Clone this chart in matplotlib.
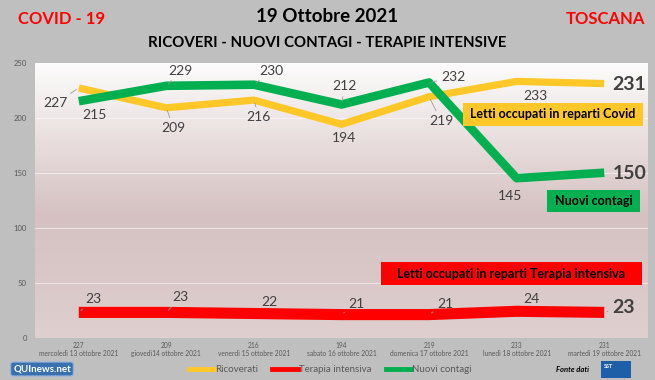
import numpy as np
import matplotlib
matplotlib.use("Agg")
import matplotlib.pyplot as plt
from matplotlib.patches import Rectangle
from matplotlib.lines import Line2D
from matplotlib.colors import LinearSegmentedColormap

plt.rcParams['font.family'] = ['Lato', 'DejaVu Sans']

# ---------------- data ----------------
dates = ["mercoledì 13 ottobre 2021", "giovedì14 ottobre 2021", "venerdì 15 ottobre 2021",
         "sabato 16 ottobre 2021", "domenica 17 ottobre 2021", "lunedì 18 ottobre 2021",
         "martedì 19 ottobre 2021"]
ricoverati = [227, 209, 216, 194, 219, 233, 231]
nuovi_contagi = [215, 229, 230, 212, 232, 145, 150]
terapia_intensiva = [23, 23, 22, 21, 21, 24, 23]

# label offsets in pixels (dx, dy) and leader-line flags – style only
off_ric = [(-23, -15), (7, -20), (5, -17), (2, -14), (12, -24), (19, -15), (25, -1)]
off_nc = [(16, -14), (14, 15), (17, 14), (3, 18), (24, 5), (-7, -18), (25, -1)]
off_ti = [(15, 13), (14, 15), (15, 12), (15, 11), (16, 11), (15, 12), (19, 5)]
lead_ric = [1, 1, 1, 0, 1, 0, 0]
lead_nc = [0, 1, 1, 1, 1, 0, 0]
lead_ti = [1, 1, 0, 1, 1, 0, 1]

YELLOW = "#FFC828"
GREEN = "#00B050"
RED = "#FF0000"
LBL = "#404040"

W, H = 655, 380
fig = plt.figure(figsize=(W / 100, H / 100), dpi=100)
fig.patch.set_facecolor("#BFBFBF")

ax_l, ax_r, ax_t, ax_b = 35, 648, 62.7, 337.7
ax = fig.add_axes([ax_l / W, 1 - ax_b / H, (ax_r - ax_l) / W, (ax_b - ax_t) / H])

# gradient background
cmap = LinearSegmentedColormap.from_list("bg", [(0, "#DFCFCF"), (0.45, "#D5C1C1"), (1, "#FDFCFC")])
gy = np.linspace(0, 1, 256).reshape(-1, 1)
ax.imshow(gy, aspect="auto", cmap=cmap, origin="lower", extent=[-0.5, 6.5, 0, 250], zorder=0)

ax.set_xlim(-0.5, 6.5)
ax.set_ylim(0, 250)
for s in ax.spines.values():
    s.set_visible(False)
ax.set_yticks([0, 50, 100, 150, 200, 250])
ax.tick_params(axis='y', length=0, pad=6, labelsize=5.5, labelcolor="#595959")
ax.yaxis.grid(True, color="white", alpha=0.55, lw=0.8)
ax.set_axisbelow(True)
x = np.arange(len(dates))
ax.set_xticks(x)
ax.set_xticklabels([f"{r}\n{d}" for r, d in zip(ricoverati, dates)], fontsize=4.8,
                   color="#595959", linespacing=1.2)
ax.tick_params(axis='x', length=0, pad=3)

ax.plot(x, ricoverati, color=YELLOW, lw=5.2, solid_capstyle="butt", solid_joinstyle="round", zorder=3)
ax.plot(x, nuovi_contagi, color=GREEN, lw=6.2, solid_capstyle="butt", solid_joinstyle="round", zorder=4)
ax.plot(x, terapia_intensiva, color=RED, lw=8, solid_capstyle="butt", solid_joinstyle="round", zorder=3)

def labels(vals, offs, leads):
    n = len(vals)
    for i, (v, (dx, dy), ld) in enumerate(zip(vals, offs, leads)):
        last = i == n - 1
        ap = None
        if ld:
            ap = dict(arrowstyle="-", color="#9A9A9A", lw=0.6, shrinkA=1, shrinkB=2)
        ax.annotate(str(v), (x[i], v), xytext=(dx, dy), textcoords="offset pixels",
                    ha="center", va="center", color=LBL,
                    fontsize=14 if last else 10, fontweight="bold" if last else "normal",
                    arrowprops=ap, zorder=6)

labels(ricoverati, off_ric, lead_ric)
labels(nuovi_contagi, off_nc, lead_nc)
labels(terapia_intensiva, off_ti, lead_ti)

def px2fig(px, py):
    return px / W, 1 - py / H

def box(x0, y0, x1, y1, color, text, fs=9):
    fx0, fy1 = px2fig(x0, y0)
    fx1, fy0 = px2fig(x1, y1)
    fig.patches.append(Rectangle((fx0, fy0), fx1 - fx0, fy1 - fy0, transform=fig.transFigure,
                                 facecolor=color, edgecolor="none", zorder=10))
    fig.text((fx0 + fx1) / 2, (fy0 + fy1) / 2, text, ha="center", va="center",
             fontsize=fs, fontweight="bold", color="black", zorder=11)

box(463, 103, 643, 126, YELLOW, "Letti occupati in reparti Covid")
box(547, 190, 640, 212, GREEN, "Nuovi contagi")
box(381, 262, 642, 285, RED, "Letti occupati in reparti Terapia intensiva")

# titles
fig.text(62 / W, 1 - 19 / H, "COVID - 19", color="#FF0000", fontsize=12, fontweight="bold",
         ha="center", va="center")
fig.text(605 / W, 1 - 19 / H, "TOSCANA", color="#FF0000", fontsize=12, fontweight="bold",
         ha="center", va="center")
fig.text(327 / W, 1 - 17 / H, "19 Ottobre 2021", color="black", fontsize=13.5,
         fontweight="bold", ha="center", va="center")
fig.text(327 / W, 1 - 43 / H, "RICOVERI - NUOVI CONTAGI - TERAPIE INTENSIVE", color="black",
         fontsize=10.8, fontweight="bold", ha="center", va="center")

# legend
handles = [Line2D([], [], color=YELLOW, lw=3.5), Line2D([], [], color=RED, lw=3.5),
           Line2D([], [], color=GREEN, lw=3.5)]
leg = fig.legend(handles, ["Ricoverati", "Terapia intensiva", "Nuovi contagi"],
                 loc="center", bbox_to_anchor=(330 / W, 1 - 370 / H), ncol=3, frameon=False,
                 fontsize=7, handlelength=2.6, handletextpad=0.1, columnspacing=1.5)
for t in leg.get_texts():
    t.set_color("#595959")

# logos
fig.text(42 / W, 1 - 369 / H, "QUInews.net", ha="center", va="center", fontsize=7,
         fontweight="bold", color="white",
         bbox=dict(boxstyle="round,pad=0.25", fc="#3A6FB0", ec="#8FB2DA", lw=0.8))
fig.text(572 / W, 1 - 369 / H, "Fonte dati", ha="center", va="center", fontsize=5.5,
         fontweight="bold", fontstyle="italic", color="black")
fx0, fy1 = px2fig(601, 361)
fx1, fy0 = px2fig(631, 378)
fig.patches.append(Rectangle((fx0, fy0), fx1 - fx0, fy1 - fy0, transform=fig.transFigure,
                             facecolor="#1F5FA8", edgecolor="none"))
fig.text(609 / W, 1 - 366 / H, "SST", ha="center", va="center", fontsize=4, color="white",
         fontweight="bold")

fig.savefig("out.png", dpi=100, facecolor=fig.get_facecolor())
